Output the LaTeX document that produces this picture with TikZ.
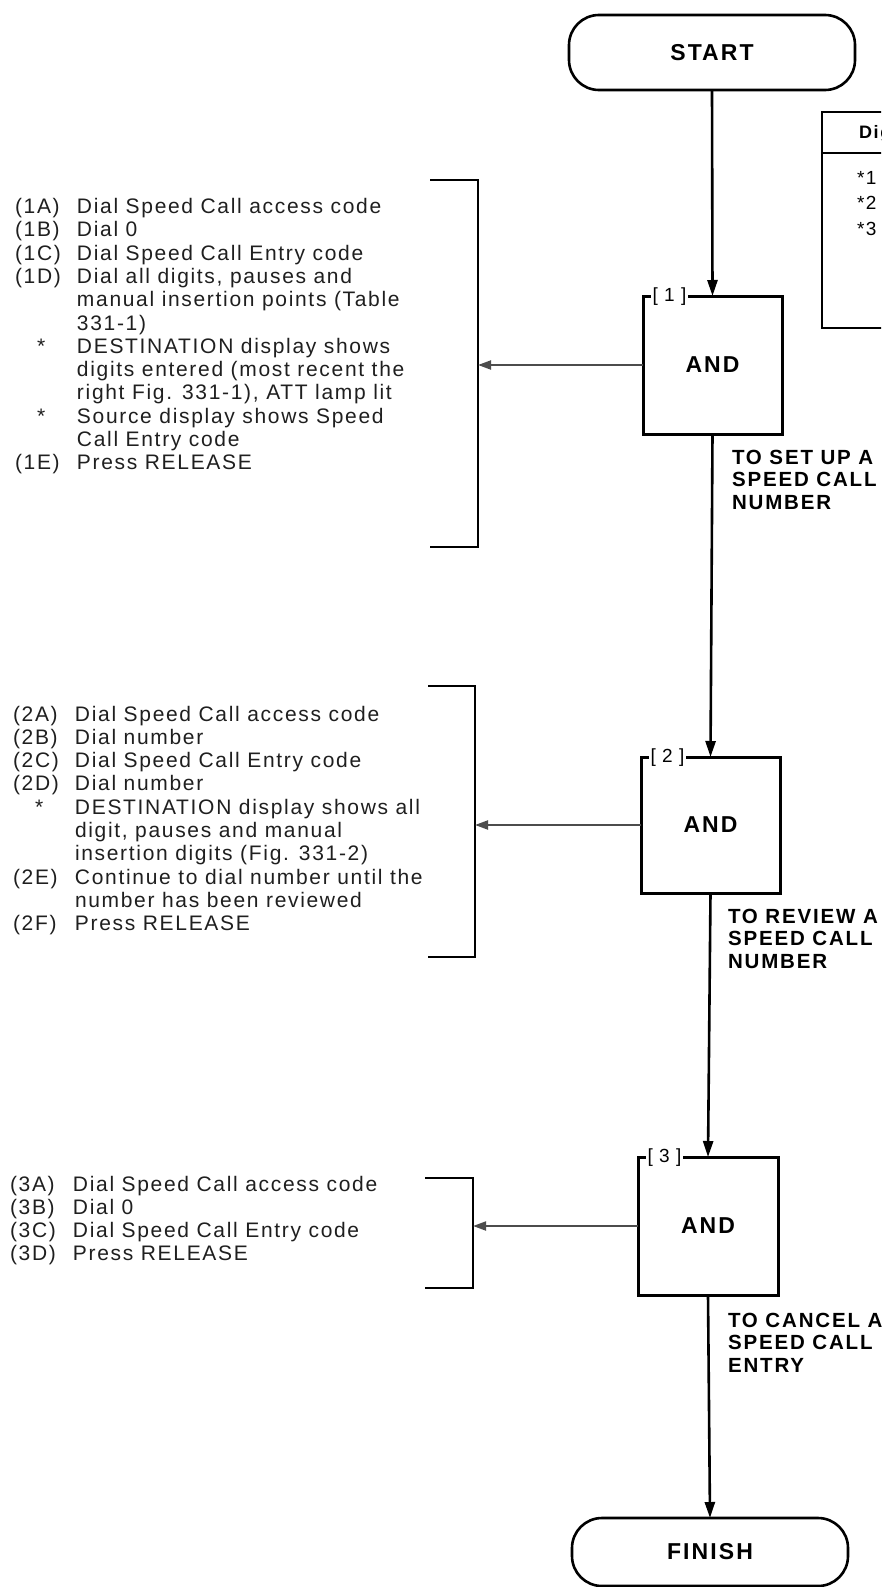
\documentclass[tikz,border=0pt]{standalone}
\usepackage{fontspec}
\usetikzlibrary{arrows.meta}
% spaced-out sans faces, as in the printed procedure charts
\newfontfamily\txtfont[LetterSpace=8]{Liberation Sans}
\newfontfamily\capfont[LetterSpace=9]{Liberation Sans}
\newfontfamily\tagfont[LetterSpace=6]{Liberation Sans}

\begin{document}
\begin{tikzpicture}[x=1pt,y=-1pt,
  every node/.style={inner sep=0pt, outer sep=0pt},
  terminal/.style={draw, line width=2.6pt, rounded corners=30pt,
    minimum width=286pt, minimum height=75pt,
    font=\capfont\bfseries\fontsize{23}{27}\selectfont},
  gate/.style={draw, line width=3pt, minimum width=139pt, minimum height=138pt,
    font=\capfont\bfseries\fontsize{23}{27}\selectfont},
  tag/.style={fill=white, inner xsep=1.5pt, inner ysep=1pt, anchor=west,
    font=\tagfont\fontsize{19}{21}\selectfont},
  flow/.style={line width=2.6pt, -{Triangle[length=16pt,width=10pt]}},
  side/.style={line width=2pt, black!70, -{Triangle[length=13pt,width=9pt]}},
  bracket/.style={line width=2pt},
  steps/.style={anchor=base west, text=black!88,
    font=\txtfont\fontsize{21}{23.3}\selectfont},
  caption/.style={anchor=base west,
    font=\capfont\bfseries\fontsize{20.5}{22.5}\selectfont},
  tableline/.style={line width=2.4pt},
  tabletext/.style={anchor=base west, font=\txtfont\fontsize{19}{21}\selectfont}
]
\fill[white] (0,0) rectangle (881,1587);
\useasboundingbox (0,0) rectangle (881,1587);
\clip (0,0) rectangle (881,1587);

% terminals
\node[terminal] (start) at (712,52.5) {START};
\node[terminal, minimum width=276pt, minimum height=68pt] (finish) at (710,1552) {FINISH};

% AND gates with their step tags
\node[gate] (g1) at (712.5,365) {AND};
\node[gate, minimum height=136pt] (g2) at (710.5,825) {AND};
\node[gate, minimum width=140pt] (g3) at (708,1226) {AND};
\node[tag] (t1) at (651,297) {[ 1 ]};
\node[tag] (t2) at (649,758) {[ 2 ]};
\node[tag] (t3) at (646,1158) {[ 3 ]};

% main flow
\draw[flow] (start.south) -- (g1.north);
\draw[flow] (g1.south) -- (g2.north);
\draw[flow] (g2.south) -- (g3.north);
\draw[flow] (g3.south) -- (finish.north);

% path captions
\node[caption] (c1) at (732,464) {\begin{tabular}[t]{@{}l@{}}TO SET UP A\\SPEED CALL\\NUMBER\end{tabular}};
\node[caption] (c2) at (728,923) {\begin{tabular}[t]{@{}l@{}}TO REVIEW A\\SPEED CALL\\NUMBER\end{tabular}};
\node[caption] (c3) at (728,1327) {\begin{tabular}[t]{@{}l@{}}TO CANCEL A\\SPEED CALL\\ENTRY\end{tabular}};

% brackets around the step lists
\coordinate (b1a) at (430,180);  \coordinate (b1b) at (478,180);
\coordinate (b1c) at (478,547);  \coordinate (b1d) at (430,547);
\coordinate (b2a) at (428,686);  \coordinate (b2b) at (475,686);
\coordinate (b2c) at (475,957);  \coordinate (b2d) at (428,957);
\coordinate (b3a) at (425,1178); \coordinate (b3b) at (473,1178);
\coordinate (b3c) at (473,1288); \coordinate (b3d) at (425,1288);
\draw[bracket] (b1a) -- (b1b) -- (b1c) -- (b1d);
\draw[bracket] (b2a) -- (b2b) -- (b2c) -- (b2d);
\draw[bracket] (b3a) -- (b3b) -- (b3c) -- (b3d);
\draw[side] (g1.west) -- (g1.west -| b1b);
\draw[side] (g2.west) -- (g2.west -| b2b);
\draw[side] (g3.west) -- (g3.west -| b3b);

% step lists
\node[steps] (s1) at (15,213.5) {\begin{tabular}[t]{@{}p{62pt}@{}l@{}}
(1A) & Dial Speed Call access code\\
(1B) & Dial 0\\
(1C) & Dial Speed Call Entry code\\
(1D) & Dial all digits, pauses and\\
     & manual insertion points (Table\\
     & 331-1)\\
\hspace*{22pt}* & DESTINATION display shows\\
     & digits entered (most recent the\\
     & right Fig. 331-1), ATT lamp lit\\
\hspace*{22pt}* & Source display shows Speed\\
     & Call Entry code\\
(1E) & Press RELEASE
\end{tabular}};

\node[steps] (s2) at (13,721) {\begin{tabular}[t]{@{}p{62pt}@{}l@{}}
(2A) & Dial Speed Call access code\\
(2B) & Dial number\\
(2C) & Dial Speed Call Entry code\\
(2D) & Dial number\\
\hspace*{22pt}* & DESTINATION display shows all\\
     & digit, pauses and manual\\
     & insertion digits (Fig. 331-2)\\
(2E) & Continue to dial number until the\\
     & number has been reviewed\\
(2F) & Press RELEASE
\end{tabular}};

\node[steps] (s3) at (10,1191) {\begin{tabular}[t]{@{}p{63pt}@{}l@{}}
(3A) & Dial Speed Call access code\\
(3B) & Dial 0\\
(3C) & Dial Speed Call Entry code\\
(3D) & Press RELEASE
\end{tabular}};

% digit table at the right edge
\draw[tableline] (900,112) -- (822,112) -- (822,328) -- (900,328);
\draw[tableline] (822,153) -- (900,153);
\node[tabletext, font=\capfont\bfseries\fontsize{18}{21}\selectfont] (th) at (859,138) {Digit};
\node[tabletext] (d1) at (857,184) {*1};
\node[tabletext] (d2) at (857,209) {*2};
\node[tabletext] (d3) at (857,235) {*3};
\end{tikzpicture}
\end{document}
